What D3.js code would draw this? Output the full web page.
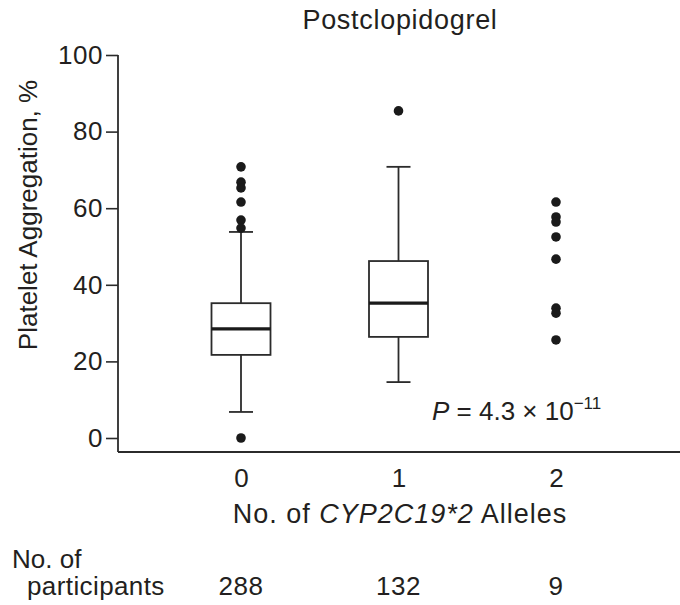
<!DOCTYPE html>
<html>
<head>
<meta charset="utf-8">
<script src="https://cdn.jsdelivr.net/npm/d3@7"></script>
<style>
  body { margin: 0; background: #fff; }
  svg text { font-family: "Liberation Sans", Arial, Helvetica, sans-serif; fill: #231f20; }
</style>
</head>
<body>
<script>
/* data */
const groups = ["0", "1", "2"];
const counts = ["288", "132", "9"];
const yTicks = [0, 20, 40, 60, 80, 100];

// boxes for groups 0 and 1
const boxGroups = ["0", "1"];
const q1 = [21.7, 26.4];
const median = [28.5, 35.2];
const q3 = [35.2, 46.2];
const whiskerLow = [6.8, 14.6];
const whiskerHigh = [53.8, 70.8];

// single points
const outliers0 = [70.8, 66.8, 65.3, 61.6, 56.9, 54.8, 0];
const outliers1 = [85.4];
const points2 = [61.6, 57.7, 56.4, 52.5, 46.7, 33.9, 32.6, 25.6];

const width = 680;
const height = 605;
const axisLeft = 118;
const axisBottom = 452;
const ink = "#2b2b2b";
const fontFam = "Liberation Sans, Arial, sans-serif";

const svg = d3.select("body").append("svg")
  .attr("width", width)
  .attr("height", height);

/* scales */
const y = d3.scaleLinear().domain([0, 100]).range([438, 55]);
const x = d3.scalePoint().domain(groups).range([241, 556]);

/* y axis */
const yAxis = d3.axisLeft(y).tickValues(yTicks).tickSize(12).tickPadding(3);
const gy = svg.append("g")
  .attr("transform", "translate(" + axisLeft + ",0)")
  .call(yAxis);
gy.select(".domain").remove();
gy.selectAll(".tick line").attr("stroke", ink).attr("stroke-width", 1.6);
gy.selectAll(".tick text").attr("font-size", 26).attr("fill", "#231f20")
  .attr("font-family", fontFam).attr("letter-spacing", 0.5);

svg.append("line")
  .attr("x1", axisLeft).attr("x2", axisLeft)
  .attr("y1", y(100)).attr("y2", axisBottom)
  .attr("stroke", ink).attr("stroke-width", 1.8);

/* x axis */
const xAxis = d3.axisBottom(x).tickSize(0).tickPadding(0);
const gx = svg.append("g")
  .attr("transform", "translate(0," + axisBottom + ")")
  .call(xAxis);
gx.select(".domain").remove();
gx.selectAll(".tick text").attr("font-size", 26).attr("dy", 35)
  .attr("fill", "#231f20")
  .attr("font-family", fontFam);

svg.append("line")
  .attr("x1", axisLeft).attr("x2", width)
  .attr("y1", axisBottom).attr("y2", axisBottom)
  .attr("stroke", ink).attr("stroke-width", 1.8);

/* boxes */
const boxW = 59;
const capW = 24;
const boxes = svg.append("g").selectAll("g")
  .data(boxGroups)
  .join("g");

boxes.append("line")
  .attr("x1", d => x(d)).attr("x2", d => x(d))
  .attr("y1", (d, i) => y(whiskerHigh[i])).attr("y2", (d, i) => y(q3[i]))
  .attr("stroke", ink).attr("stroke-width", 1.8);
boxes.append("line")
  .attr("x1", d => x(d)).attr("x2", d => x(d))
  .attr("y1", (d, i) => y(q1[i])).attr("y2", (d, i) => y(whiskerLow[i]))
  .attr("stroke", ink).attr("stroke-width", 1.8);
boxes.append("line")
  .attr("x1", d => x(d) - capW / 2).attr("x2", d => x(d) + capW / 2)
  .attr("y1", (d, i) => y(whiskerHigh[i])).attr("y2", (d, i) => y(whiskerHigh[i]))
  .attr("stroke", ink).attr("stroke-width", 1.8);
boxes.append("line")
  .attr("x1", d => x(d) - capW / 2).attr("x2", d => x(d) + capW / 2)
  .attr("y1", (d, i) => y(whiskerLow[i])).attr("y2", (d, i) => y(whiskerLow[i]))
  .attr("stroke", ink).attr("stroke-width", 1.8);
boxes.append("rect")
  .attr("x", d => x(d) - boxW / 2)
  .attr("width", boxW)
  .attr("y", (d, i) => y(q3[i]))
  .attr("height", (d, i) => y(q1[i]) - y(q3[i]))
  .attr("fill", "#fff").attr("stroke", ink).attr("stroke-width", 1.8);
boxes.append("line")
  .attr("x1", d => x(d) - boxW / 2).attr("x2", d => x(d) + boxW / 2)
  .attr("y1", (d, i) => y(median[i])).attr("y2", (d, i) => y(median[i]))
  .attr("stroke", "#1a1a1a").attr("stroke-width", 3.2);

/* points */
const dots = [
  { g: "0", vals: outliers0 },
  { g: "1", vals: outliers1 },
  { g: "2", vals: points2 }
];
dots.forEach(s => {
  svg.append("g").selectAll("circle")
    .data(s.vals)
    .join("circle")
    .attr("cx", x(s.g))
    .attr("cy", d => y(d))
    .attr("r", 4.8)
    .attr("fill", "#1a1a1a");
});

/* texts */
svg.append("text")
  .attr("x", 400).attr("y", 29)
  .attr("text-anchor", "middle").attr("font-size", 27)
  .attr("letter-spacing", 0.7)
  .text("Postclopidogrel");

svg.append("text")
  .attr("transform", "translate(37,215) rotate(-90)")
  .attr("text-anchor", "middle").attr("font-size", 26)
  .text("Platelet Aggregation, %");

const xl = svg.append("text")
  .attr("x", 400).attr("y", 523)
  .attr("text-anchor", "middle").attr("font-size", 27)
  .attr("letter-spacing", 1);
xl.append("tspan").text("No. of ");
xl.append("tspan").attr("font-style", "italic").text("CYP2C19*2");
xl.append("tspan").text(" Alleles");

const pv = svg.append("text")
  .attr("x", 432).attr("y", 420).attr("font-size", 26);
pv.append("tspan").attr("font-style", "italic").text("P");
pv.append("tspan").text(" = 4.3 × 10");
pv.append("tspan").attr("font-size", 17).attr("dy", -11).text("−11");

svg.append("text")
  .attr("x", 12).attr("y", 568).attr("font-size", 26)
  .text("No. of");
svg.append("text")
  .attr("x", 27).attr("y", 595).attr("font-size", 26)
  .attr("letter-spacing", 0.4)
  .text("participants");

svg.append("g").selectAll("text")
  .data(counts)
  .join("text")
  .attr("x", (d, i) => x(groups[i]))
  .attr("y", 595)
  .attr("text-anchor", "middle")
  .attr("font-size", 26)
  .attr("letter-spacing", 0.5)
  .text(d => d);
</script>
</body>
</html>
